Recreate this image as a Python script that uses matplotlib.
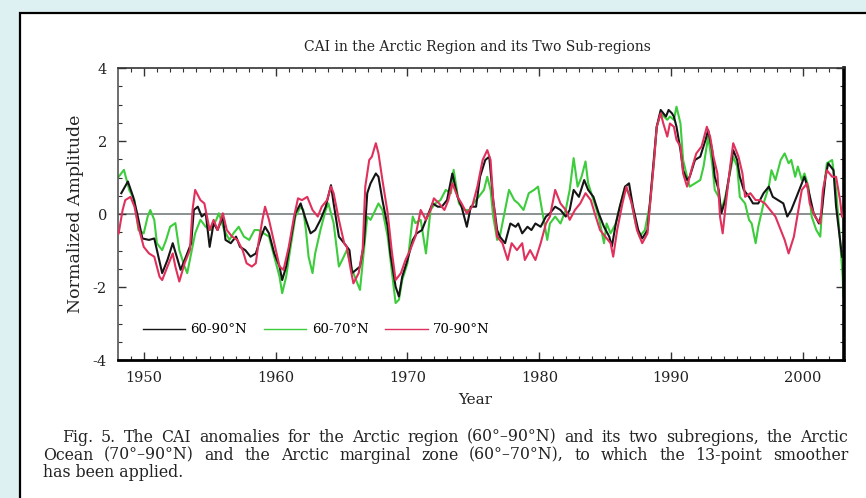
import matplotlib
matplotlib.use("Agg")
import matplotlib.pyplot as plt
from matplotlib.patches import Rectangle
from matplotlib.ticker import MultipleLocator

# --- data (13-point smoothed CAI anomalies) ---
yrs_all = [1948.3, 1948.8, 1949.2, 1949.5, 1949.9, 1950.4, 1950.8, 1951.0, 1951.4, 1951.8,
           1952.2, 1952.5, 1952.8, 1953.2, 1953.6, 1953.8, 1954.1, 1954.4, 1954.7, 1955.0,
           1955.3, 1955.6, 1956.0, 1956.2, 1956.6, 1957.0, 1957.3, 1957.7, 1958.1, 1958.5,
           1958.9, 1959.2, 1959.5, 1959.9, 1960.3, 1960.5, 1960.8, 1961.1, 1961.5, 1961.9,
           1962.3, 1962.65, 1963.0, 1963.4, 1963.8, 1964.2, 1964.4, 1964.8, 1965.2, 1965.6,
           1965.8, 1966.1, 1966.4, 1966.7, 1966.95, 1967.2, 1967.6, 1967.8, 1968.1, 1968.5,
           1968.7, 1969.1, 1969.35, 1969.6, 1970.0, 1970.4, 1970.7, 1971.1, 1971.5, 1971.9,
           1972.3, 1972.6, 1973.0, 1973.4, 1973.8, 1974.1, 1974.5, 1974.8, 1975.2, 1975.5,
           1975.9, 1976.2, 1976.5, 1976.8, 1977.0, 1977.4, 1977.8, 1978.2, 1978.4, 1978.7,
           1979.1, 1979.4, 1979.7, 1980.1, 1980.5, 1980.8, 1981.2, 1981.6, 1982.0, 1982.3,
           1982.6, 1983.0, 1983.4, 1983.7, 1984.1, 1984.5, 1984.9, 1985.3, 1985.5, 1985.8,
           1986.1, 1986.5, 1986.8, 1987.1, 1987.5, 1987.8, 1988.2, 1988.4, 1988.7, 1988.9,
           1989.2, 1989.6, 1989.8, 1990.05, 1990.2, 1990.4, 1990.7, 1990.9, 1991.2, 1991.4,
           1991.8, 1992.2, 1992.6, 1992.8, 1993.1, 1993.3, 1993.6, 1993.8, 1994.1, 1994.5,
           1994.7, 1995.0, 1995.2, 1995.5, 1995.9, 1996.2, 1996.6, 1997.0, 1997.4, 1997.7,
           1998.1, 1998.5, 1998.8, 1999.1, 1999.5, 1999.9, 2000.1, 2000.4, 2000.8, 2001.2,
           2001.4, 2001.7, 2001.9, 2002.3, 2002.5, 2002.8, 2002.95]
cai_all = [0.57, 0.89, 0.47, 0.02, -0.67, -0.71, -0.67, -0.99, -1.62, -1.26,
           -0.80, -1.17, -1.53, -1.17, -0.80, 0.11, 0.20, -0.07, 0.02, -0.90,
           -0.25, -0.44, -0.07, -0.71, -0.80, -0.62, -0.90, -0.99, -1.17, -1.08,
           -0.62, -0.35, -0.53, -1.08, -1.44, -1.81, -1.44, -0.80, 0.02, 0.29,
           -0.16, -0.53, -0.44, -0.16, 0.20, 0.79, 0.29, -0.62, -0.80, -0.99,
           -1.62, -1.53, -1.44, -0.80, 0.57, 0.84, 1.11, 1.02, 0.38, -0.35,
           -1.08, -1.99, -2.26, -1.72, -1.26, -0.71, -0.53, -0.44, -0.07, 0.29,
           0.20, 0.20, 0.38, 1.11, 0.47, 0.20, -0.35, 0.20, 0.20, 1.02,
           1.48, 1.57, 0.38, -0.44, -0.62, -0.80, -0.26, -0.35, -0.26, -0.53,
           -0.35, -0.44, -0.26, -0.35, -0.07, 0.02, 0.20, 0.11, -0.07, 0.11,
           0.66, 0.47, 0.93, 0.66, 0.47, 0.02, -0.35, -0.62, -0.89, -0.26,
           0.20, 0.75, 0.84, 0.20, -0.44, -0.67, -0.44, 0.38, 1.57, 2.39,
           2.85, 2.67, 2.85, 2.76, 2.67, 2.39, 1.75, 1.20, 0.93, 1.02,
           1.48, 1.57, 2.03, 2.30, 1.75, 1.02, 0.66, 0.02, 0.38, 1.30,
           1.75, 1.48, 1.02, 0.66, 0.47, 0.29, 0.29, 0.57, 0.75, 0.47,
           0.38, 0.29, -0.07, 0.11, 0.47, 0.84, 1.02, 0.66, 0.02, -0.26,
           0.02, 1.02, 1.39, 1.20, 0.20, -0.71, -1.17]

yrs_marg = [1948.1, 1948.5, 1948.9, 1949.3, 1949.6, 1950.0, 1950.3, 1950.5, 1950.8, 1951.0,
            1951.4, 1951.7, 1952.0, 1952.4, 1952.7, 1953.1, 1953.3, 1953.6, 1953.9, 1954.3,
            1954.7, 1955.1, 1955.5, 1955.7, 1956.1, 1956.5, 1956.8, 1957.2, 1957.6, 1958.0,
            1958.4, 1958.7, 1959.1, 1959.5, 1959.9, 1960.3, 1960.5, 1960.8, 1961.1, 1961.5,
            1961.9, 1962.1, 1962.3, 1962.5, 1962.8, 1963.0, 1963.4, 1963.8, 1964.0, 1964.4,
            1964.8, 1965.05, 1965.4, 1965.8, 1966.2, 1966.4, 1966.7, 1966.95, 1967.2, 1967.45,
            1967.8, 1968.1, 1968.5, 1968.8, 1969.1, 1969.35, 1969.6, 1970.0, 1970.4, 1970.6,
            1971.0, 1971.4, 1971.75, 1972.1, 1972.5, 1972.9, 1973.3, 1973.5, 1973.9, 1974.3,
            1974.7, 1975.0, 1975.4, 1975.8, 1976.05, 1976.3, 1976.5, 1976.8, 1977.0, 1977.3,
            1977.7, 1978.1, 1978.4, 1978.8, 1979.2, 1979.6, 1979.9, 1980.2, 1980.6, 1980.8,
            1981.2, 1981.6, 1982.0, 1982.3, 1982.6, 1982.9, 1983.2, 1983.5, 1983.7, 1984.1,
            1984.5, 1984.9, 1985.1, 1985.4, 1985.8, 1986.1, 1986.5, 1986.9, 1987.3, 1987.6,
            1988.0, 1988.4, 1988.7, 1988.9, 1989.2, 1989.7, 1989.9, 1990.2, 1990.4, 1990.7,
            1990.9, 1991.2, 1991.4, 1991.8, 1992.2, 1992.45, 1992.8, 1993.1, 1993.3, 1993.6,
            1993.8, 1994.1, 1994.5, 1994.7, 1995.0, 1995.2, 1995.6, 1995.9, 1996.1, 1996.4,
            1996.6, 1997.0, 1997.4, 1997.6, 1997.9, 1998.3, 1998.6, 1998.9, 1999.1, 1999.4,
            1999.6, 1999.9, 2000.1, 2000.4, 2000.65, 2001.0, 2001.3, 2001.5, 2001.8, 2002.2,
            2002.5, 2002.8, 2003.0, 2003.05]
cai_marg = [1.02, 1.21, 0.66, 0.38, -0.44, -0.53, -0.07, 0.11, -0.16, -0.80,
            -0.99, -0.71, -0.35, -0.25, -0.99, -1.44, -1.62, -1.08, -0.53, -0.16,
            -0.35, -0.44, -0.16, 0.02, -0.44, -0.71, -0.53, -0.35, -0.62, -0.71,
            -0.44, -0.44, -0.53, -0.62, -1.17, -1.72, -2.17, -1.72, -0.99, -0.07,
            0.20, 0.11, -0.44, -1.17, -1.62, -1.08, -0.44, 0.11, 0.29, -0.25,
            -1.44, -1.26, -0.99, -1.53, -1.90, -2.08, -0.99, -0.07, -0.16, 0.02,
            0.29, 0.11, -0.62, -1.53, -2.44, -2.35, -1.81, -1.35, -0.07, -0.25,
            -0.16, -1.08, 0.11, 0.29, 0.38, 0.66, 0.57, 1.21, 0.29, 0.11,
            0.11, 0.29, 0.47, 0.66, 1.02, 0.66, -0.07, -0.71, -0.62, -0.07,
            0.66, 0.38, 0.29, 0.11, 0.57, 0.66, 0.75, 0.11, -0.71, -0.26,
            -0.07, -0.26, 0.11, 0.66, 1.53, 0.75, 1.02, 1.44, 0.84, 0.38,
            -0.07, -0.80, -0.26, -0.53, -0.26, 0.20, 0.75, 0.47, -0.26, -0.62,
            -0.44, 0.29, 1.48, 2.39, 2.76, 2.58, 2.67, 2.58, 2.94, 2.48,
            1.48, 1.02, 0.75, 0.84, 0.93, 1.30, 2.12, 1.39, 0.66, 0.47,
            0.11, 0.47, 1.20, 1.57, 1.30, 0.47, 0.29, -0.16, -0.26, -0.80,
            -0.35, 0.29, 0.75, 1.20, 0.93, 1.48, 1.66, 1.39, 1.48, 1.02,
            1.30, 0.93, 1.11, 0.75, -0.07, -0.44, -0.62, 0.47, 1.39, 1.48,
            0.66, -0.71, -1.72, -2.26]

yrs_ocean = [1948.1, 1948.4, 1948.6, 1949.0, 1949.3, 1949.6, 1950.0, 1950.4, 1950.8, 1951.2,
             1951.4, 1951.8, 1952.2, 1952.4, 1952.7, 1953.1, 1953.5, 1953.7, 1953.9, 1954.3,
             1954.6, 1955.0, 1955.3, 1955.6, 1956.0, 1956.3, 1956.7, 1957.1, 1957.5, 1957.8,
             1958.2, 1958.5, 1958.7, 1959.0, 1959.2, 1959.5, 1959.9, 1960.3, 1960.6, 1961.0,
             1961.4, 1961.7, 1962.0, 1962.4, 1962.8, 1963.2, 1963.5, 1963.9, 1964.2, 1964.4,
             1964.8, 1965.2, 1965.4, 1965.7, 1965.9, 1966.3, 1966.6, 1966.8, 1967.1, 1967.3,
             1967.6, 1967.8, 1968.1, 1968.5, 1968.8, 1969.1, 1969.5, 1969.85, 1970.2, 1970.6,
             1971.0, 1971.4, 1971.75, 1972.0, 1972.4, 1972.8, 1973.1, 1973.4, 1973.8, 1974.1,
             1974.5, 1974.9, 1975.3, 1975.7, 1976.05, 1976.3, 1976.5, 1976.8, 1977.2, 1977.6,
             1977.9, 1978.3, 1978.7, 1978.9, 1979.3, 1979.7, 1980.1, 1980.5, 1980.8, 1981.2,
             1981.6, 1982.0, 1982.3, 1982.7, 1983.1, 1983.5, 1983.9, 1984.2, 1984.6, 1985.0,
             1985.4, 1985.6, 1985.9, 1986.3, 1986.6, 1987.0, 1987.4, 1987.8, 1988.2, 1988.4,
             1988.7, 1988.9, 1989.2, 1989.4, 1989.7, 1989.9, 1990.2, 1990.4, 1990.7, 1990.9,
             1991.2, 1991.6, 1991.9, 1992.3, 1992.7, 1992.95, 1993.2, 1993.5, 1993.7, 1993.9,
             1994.2, 1994.5, 1994.7, 1995.1, 1995.4, 1995.6, 1996.0, 1996.4, 1996.7, 1997.1,
             1997.5, 1997.9, 1998.3, 1998.6, 1998.9, 1999.3, 1999.6, 1999.9, 2000.3, 2000.5,
             2000.9, 2001.3, 2001.5, 2001.8, 2002.2, 2002.5, 2002.8, 2002.95]
cai_ocean = [-0.53, 0.11, 0.38, 0.47, 0.20, -0.35, -0.90, -1.08, -1.17, -1.72,
             -1.81, -1.44, -1.08, -1.44, -1.85, -1.35, -0.99, 0.11, 0.66, 0.38,
             0.29, -0.44, -0.16, -0.44, 0.02, -0.44, -0.62, -0.71, -0.99, -1.35,
             -1.44, -1.35, -0.80, -0.16, 0.20, -0.16, -0.80, -1.44, -1.53, -0.90,
             -0.07, 0.43, 0.38, 0.47, 0.11, -0.07, 0.20, 0.38, 0.75, 0.57,
             -0.16, -0.80, -0.90, -1.53, -1.90, -1.62, -0.99, 0.75, 1.48, 1.57,
             1.94, 1.66, 0.93, 0.02, -0.99, -1.81, -1.62, -1.26, -0.99, -0.62,
             0.11, -0.16, 0.11, 0.43, 0.29, 0.11, 0.38, 0.84, 0.47, 0.29,
             0.02, 0.20, 0.75, 1.48, 1.75, 1.48, 0.38, -0.62, -0.80, -1.26,
             -0.80, -0.99, -0.80, -1.26, -0.99, -1.26, -0.80, -0.26, -0.07, 0.66,
             0.29, 0.11, -0.16, 0.11, 0.29, 0.57, 0.38, 0.02, -0.44, -0.62,
             -0.80, -1.17, -0.44, 0.29, 0.75, 0.29, -0.44, -0.80, -0.53, 0.29,
             1.48, 2.39, 2.76, 2.48, 2.12, 2.48, 2.39, 2.03, 1.85, 1.11,
             0.75, 1.30, 1.66, 1.85, 2.39, 2.12, 1.57, 1.11, -0.07, -0.53,
             0.47, 1.39, 1.94, 1.57, 1.11, 0.47, 0.57, 0.38, 0.38, 0.29,
             0.11, -0.07, -0.44, -0.71, -1.08, -0.62, 0.02, 0.66, 0.84, 0.29,
             -0.07, -0.26, 0.66, 1.20, 1.02, 1.02, 0.38, -0.07]

series_labels = ["60-90\u00b0N", "60-70\u00b0N", "70-90\u00b0N"]

caption = [
    "Fig. 5. The CAI anomalies for the Arctic region (60\u00b0\u201390\u00b0N) and its two subregions, the Arctic",
    "Ocean (70\u00b0\u201390\u00b0N) and the Arctic marginal zone (60\u00b0\u201370\u00b0N), to which the 13-point smoother",
    "has been applied.",
]

W, H = 866, 498


def fx(x):
    return x / W


def fy(y):
    return 1 - y / H


plt.rcParams['font.family'] = ['DejaVu Serif']
plt.rcParams['axes.unicode_minus'] = False

fig = plt.figure(figsize=(W / 100, H / 100), dpi=100)
fig.patch.set_facecolor('#ddf1f3')

# white page panel with a black frame, running off the right and bottom edges
panel = Rectangle((fx(20), -0.1), 1.0, fy(13) + 0.1, transform=fig.transFigure,
                  facecolor='white', edgecolor='black', lw=1.6, zorder=0)
fig.add_artist(panel)

ax = fig.add_axes([fx(118), fy(360), fx(844) - fx(118), fy(68) - fy(360)])
ax.set_facecolor('white')

ax.axhline(0, color='#8a8f8f', lw=1.4, zorder=1)
ax.plot(yrs_all, cai_all, color='#151515', lw=1.5, label=series_labels[0], zorder=3)
ax.plot(yrs_marg, cai_marg, color='#3ccc3c', lw=1.5, label=series_labels[1], zorder=2)
ax.plot(yrs_ocean, cai_ocean, color='#e0305c', lw=1.5, label=series_labels[2], zorder=4)

ax.set_xlim(1948.05, 2003.1)
ax.set_ylim(-4, 4)
ax.xaxis.set_major_locator(MultipleLocator(10))
ax.xaxis.set_minor_locator(MultipleLocator(1))
ax.yaxis.set_major_locator(MultipleLocator(2))
ax.yaxis.set_minor_locator(MultipleLocator(0.5))
ax.tick_params(which='both', direction='in', top=True, right=True, colors='#333333')
ax.tick_params(which='major', length=6, width=1.0, labelsize=10.5, labelcolor='#222222')
ax.tick_params(axis='x', which='major', pad=8)
ax.tick_params(axis='y', which='major', pad=8)
ax.tick_params(which='minor', length=3, width=0.8)

ax.spines['left'].set_color('#555555')
ax.spines['left'].set_linewidth(1.2)
ax.spines['top'].set_color('#333333')
ax.spines['top'].set_linewidth(1.2)
ax.spines['right'].set_linewidth(2.6)
ax.spines['bottom'].set_linewidth(2.0)

leg = ax.legend(loc='lower left', bbox_to_anchor=(0.018, 0.04), ncol=3, frameon=False,
                fontsize=9.5, handlelength=3.2, handletextpad=0.4, columnspacing=1.3)
for line in leg.get_lines():
    line.set_linewidth(1.0)

# titles and labels
fig.text(fx(477), fy(47), "CAI in the Arctic Region and its Two Sub-regions",
         ha='center', va='center', fontsize=10, color='#222222')
fig.text(fx(75), fy(214), "Normalized Amplitude", rotation=90,
         ha='center', va='center', fontsize=12.5, color='#222222')
fig.text(fx(475), fy(400), "Year", ha='center', va='center', fontsize=11, color='#222222')


# figure caption, the first two lines justified to the right margin
def caption_line(text, x0, x1, y, justify):
    if not justify:
        fig.text(fx(x0), fy(y), text, ha='left', va='center', fontsize=11.3, color='#222222')
        return
    words = text.split(' ')
    items = [fig.text(0, fy(y), w, ha='left', va='center', fontsize=11.3, color='#222222')
             for w in words]
    renderer = fig.canvas.get_renderer()
    widths = [t.get_window_extent(renderer).width for t in items]
    gap = (x1 - x0 - sum(widths)) / (len(words) - 1)
    x = x0
    for t, w in zip(items, widths):
        t.set_x(fx(x))
        x += w + gap


caption_line(caption[0], 62, 848, 437, True)
caption_line(caption[1], 43, 848, 455, True)
caption_line(caption[2], 43, 848, 472, False)

fig.savefig('out.png', dpi=100, facecolor=fig.get_facecolor())
